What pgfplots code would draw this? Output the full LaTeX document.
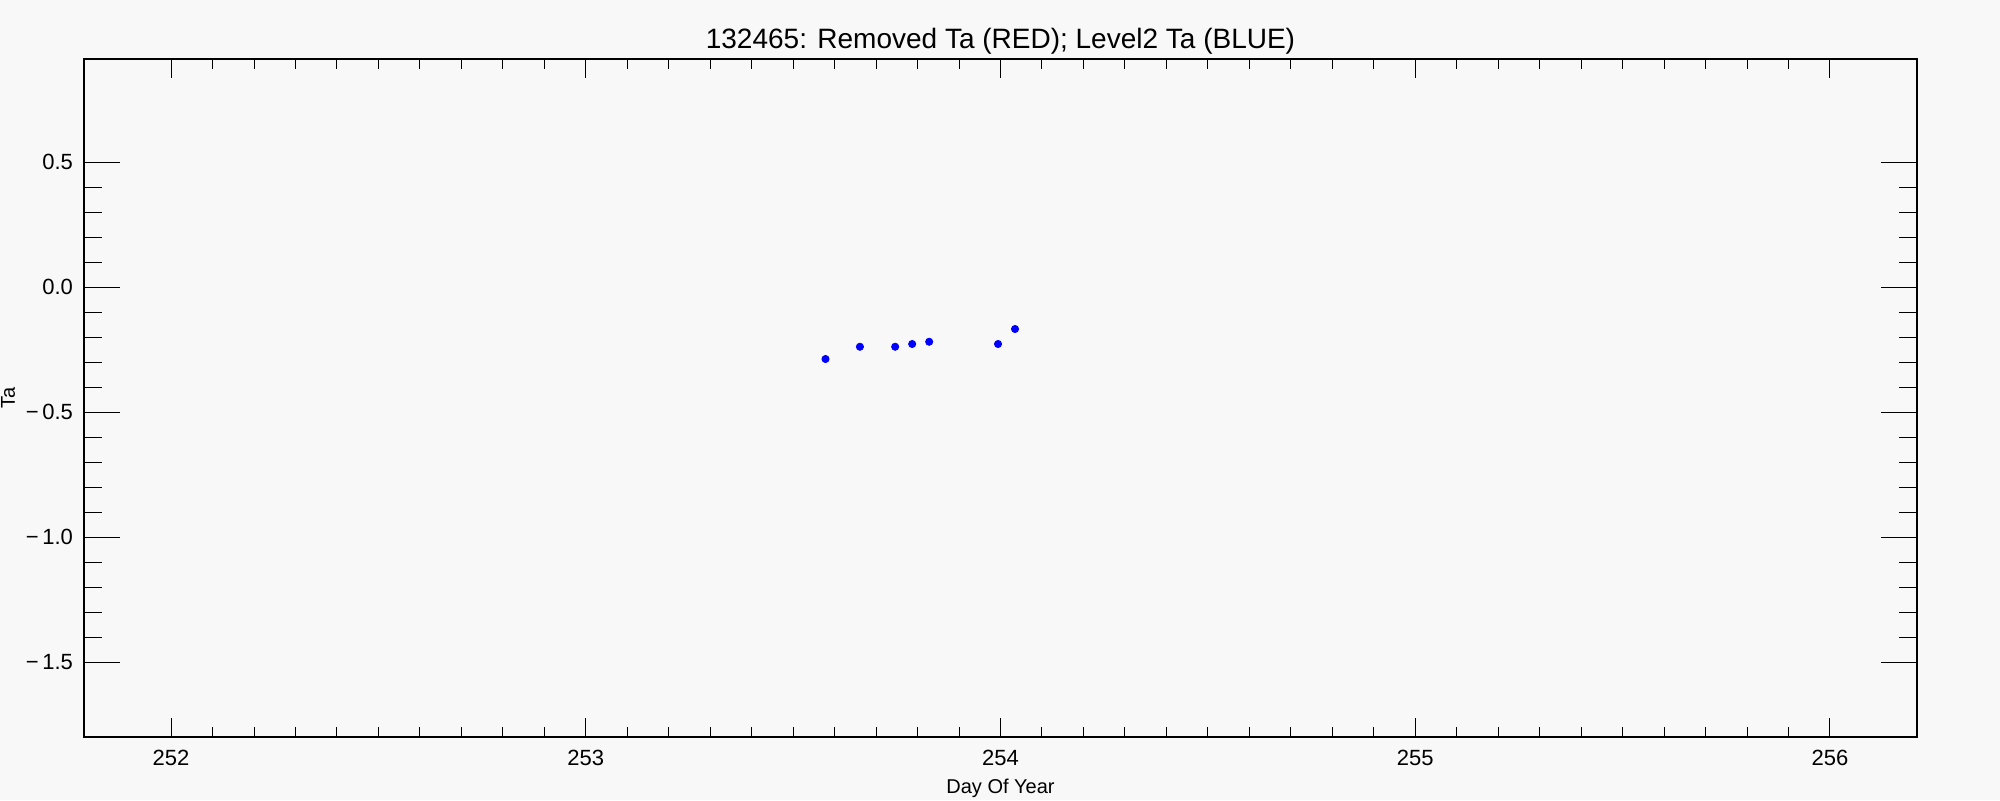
\documentclass[border=0pt]{standalone}
\usepackage{fontspec}
\setmainfont{Liberation Sans}
\usepackage{pgfplots}
\pgfplotsset{compat=1.18}
\definecolor{bg}{HTML}{F8F8F8}
\begin{document}
\begin{tikzpicture}[x=1pt,y=1pt]
\fill[bg] (-42,-31.5) rectangle (958,368.5);
\useasboundingbox (-42,-31.5) rectangle (958,368.5);
\pgfplotsset{common/.style={
  width=916.5pt,height=339pt,scale only axis,at={(0,0)},anchor=south west,
  xmin=251.79,xmax=256.21,ymin=-1.8,ymax=0.912,
  tick align=inside,
  axis line style={line width=0.8pt},
  tick style={black,line width=0.5pt},
  /pgf/number format/assume math mode=true,
  ticklabel style={font=\fontsize{11}{13}\selectfont},
}}
\begin{axis}[common,
  xtick={252,253,254,255,256}, minor x tick num=9, ytick=\empty,
  major tick length=9.5pt, minor tick length=5pt,
  xticklabel style={yshift=-3pt},
  /pgf/number format/.cd, set thousands separator={},
  /pgfplots/.cd,
  xlabel={Day Of Year},
  every axis x label/.style={at={(axis description cs:0.5,0)}, anchor=center, yshift=-25.5pt, font=\fontsize{10}{12}\selectfont},
]
\end{axis}
\begin{axis}[common,
  xtick=\empty,
  ytick={-1.5,-1,-0.5,0,0.5},
  yticklabels={−\,1.5,−\,1.0,−\,0.5,0.0,0.5},
  minor y tick num=4,
  major tick length=18pt, minor tick length=9pt,
  yticklabel style={xshift=-2pt},
  ylabel={Ta},
  every axis y label/.style={at={(axis description cs:0,0.5)}, xshift=-38pt, rotate=90, anchor=center, font=\fontsize{10}{12}\selectfont},
  title={132465: Removed Ta (RED); Level2 Ta (BLUE)},
  every axis title shift=0pt,
  title style={at={(axis description cs:0.5,1)}, anchor=center, yshift=9pt, font=\fontsize{14}{16}\selectfont},
]
\addplot[only marks, mark=*, mark size=1.8pt, blue] coordinates {
(253.578,-0.288)
(253.661,-0.239)
(253.746,-0.239)
(253.787,-0.228)
(253.828,-0.219)
(253.994,-0.228)
(254.035,-0.168)
};
\end{axis}
\end{tikzpicture}
\end{document}
